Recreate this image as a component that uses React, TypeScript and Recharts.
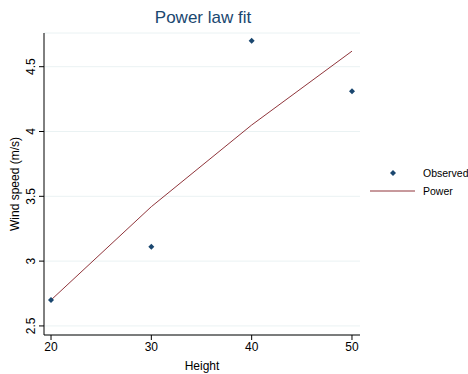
import React from 'react';
import { ComposedChart, Line, Scatter, XAxis, YAxis, CartesianGrid } from 'recharts';

// Observed wind speed vs height, with a power law fit
const heights = [20, 30, 40, 50];
const observed = [2.7, 3.11, 4.7, 4.31];
const power = [2.7, 3.42, 4.05, 4.62];
const xTicks = [20, 30, 40, 50];
const yTicks = [2.5, 3, 3.5, 4, 4.5];

const data = heights.map((h, i) => ({ h, obs: observed[i], power: power[i] }));

const NAVY = '#1a476f';
const MAROON = '#90353b';
const FONT = '"Liberation Sans", Arial, sans-serif';

const Diamond = (props: any) => {
  const { cx, cy } = props;
  if (cx == null || cy == null) return null;
  const r = 3;
  return <path d={`M${cx},${cy - r}L${cx + r},${cy}L${cx},${cy + r}L${cx - r},${cy}Z`} fill={NAVY} />;
};

const YTick = (props: any) => {
  const { x, y, payload } = props;
  return (
    <text x={x - 2} y={y} transform={`rotate(-90 ${x - 2} ${y})`} textAnchor="middle" fontSize={12} fill="#000" fontFamily={FONT}>
      {payload.value}
    </text>
  );
};

export default function App() {
  return (
    <div style={{ position: 'fixed', left: 0, top: 0, width: 468, height: 374, background: '#fff', fontFamily: FONT }}>
      <div style={{ position: 'absolute', left: 0, width: 406, top: 8, textAlign: 'center', fontSize: 17, color: NAVY }}>
        Power law fit
      </div>
      <ComposedChart width={468} height={374} data={data} margin={{ top: 33, right: 108, bottom: 0, left: 0 }}>
        <CartesianGrid vertical={false} stroke="#eaf2f3" />
        <XAxis
          type="number"
          dataKey="h"
          domain={[19.3, 50.8]}
          ticks={xTicks}
          height={39}
          stroke="#000"
          tickSize={5}
          tick={{ fontSize: 12, fill: '#000', fontFamily: FONT }}
          label={{ value: 'Height', position: 'insideBottom', offset: 4, fontSize: 12, fill: '#000', fontFamily: FONT }}
        />
        <YAxis
          type="number"
          domain={[2.43, 4.76]}
          ticks={yTicks}
          width={44}
          stroke="#000"
          tickSize={5}
          tick={<YTick />}
          label={{
            content: () => (
              <text x={19} y={184} transform="rotate(-90 19 184)" textAnchor="middle" fontSize={12} fill="#000" fontFamily={FONT}>
                Wind speed (m/s)
              </text>
            ),
          }}
        />
        <Line dataKey="power" stroke={MAROON} strokeWidth={1} dot={false} isAnimationActive={false} />
        <Scatter dataKey="obs" fill={NAVY} shape={<Diamond />} isAnimationActive={false} />
      </ComposedChart>
      <svg style={{ position: 'absolute', left: 368, top: 160 }} width={100} height={40}>
        <path d="M25,10L28,13L25,16L22,13Z" fill={NAVY} />
        <text x={55} y={17} fontSize={10.5} fontFamily={FONT} fill="#000">Observed</text>
        <line x1={2} y1={31} x2={47} y2={31} stroke={MAROON} strokeWidth={1} />
        <text x={55} y={35} fontSize={10.5} fontFamily={FONT} fill="#000">Power</text>
      </svg>
    </div>
  );
}
